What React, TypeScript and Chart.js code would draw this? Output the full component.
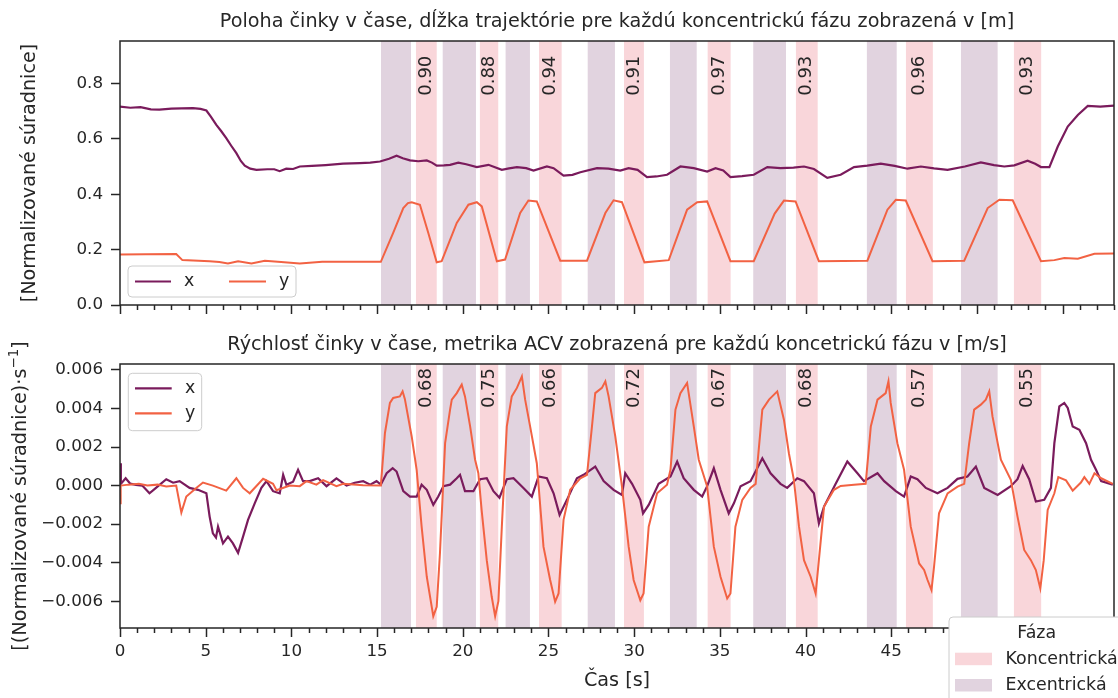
import React, { useEffect, useRef } from 'react';
import { Chart, registerables } from 'chart.js';

Chart.register(...registerables);

const FONT = '"DejaVu Sans", "Liberation Sans", sans-serif';
const INK = '#262626';
const X_COLOR = '#7a1b5c';
const Y_COLOR = '#f26243';
const ECC_COLOR = '#e1d3df';
const CON_COLOR = '#f9d6da';

// ---------- axes ----------
const X_MIN = 0;
const X_MAX = 58;
const xTickValues = [0, 5, 10, 15, 20, 25, 30, 35, 40, 45, 50, 55];
const topYMin = 0;
const topYMax = 0.953;
const topYTicks = [0, 0.2, 0.4, 0.6, 0.8];
const botYMin = -0.00739;
const botYMax = 0.00631;
const botYTicks = [-0.006, -0.004, -0.002, 0, 0.002, 0.004, 0.006];

// ---------- phases (seconds) ----------
const eccStart = [15.23, 18.83, 22.5, 27.29, 32.09, 36.95, 43.58, 49.07];
const eccEnd = [16.98, 20.77, 23.92, 28.88, 33.65, 38.86, 45.32, 51.21];
const conStart = [17.27, 21.0, 24.45, 29.41, 34.29, 39.44, 45.86, 52.16];
const conEnd = [18.48, 22.07, 25.77, 30.57, 35.63, 40.71, 47.43, 53.75];
const lengthLabels = ['0.90', '0.88', '0.94', '0.91', '0.97', '0.93', '0.96', '0.93'];
const acvLabels = ['0.68', '0.75', '0.66', '0.72', '0.67', '0.68', '0.57', '0.55'];

// ---------- position (top) ----------
const posXTime = [0, 0.6, 1.2, 1.8, 2.3, 3.0, 3.6, 4.26, 4.7, 5.04, 5.3, 5.62, 5.9, 6.2, 6.5, 6.79, 7.05, 7.28, 7.6, 7.96, 8.6, 9.0, 9.32, 9.7, 10.1, 10.49, 11.2, 12.0, 13.02, 14.0, 14.6, 15.17, 15.7, 16.14, 16.5, 16.92, 17.4, 17.9, 18.2, 18.48, 18.9, 19.26, 19.74, 20.2, 20.82, 21.5, 22.28, 22.7, 23.16, 23.7, 24.13, 24.91, 25.3, 25.88, 26.4, 26.86, 27.83, 28.5, 29.19, 29.68, 30.2, 30.75, 31.3, 31.92, 32.7, 33.48, 34.26, 34.75, 35.2, 35.62, 36.3, 36.98, 37.77, 38.54, 39.3, 39.91, 40.49, 41.27, 42.05, 42.83, 43.6, 44.39, 45.2, 45.95, 46.73, 47.5, 48.29, 49.3, 50.23, 51.0, 51.6, 52.18, 52.96, 53.4, 53.74, 54.23, 54.72, 55.3, 55.89, 56.47, 57.2, 58.0];
const posX = [0.716, 0.712, 0.714, 0.706, 0.705, 0.709, 0.71, 0.711, 0.708, 0.702, 0.68, 0.65, 0.628, 0.602, 0.574, 0.548, 0.52, 0.503, 0.492, 0.488, 0.49, 0.49, 0.483, 0.492, 0.491, 0.5, 0.502, 0.505, 0.51, 0.512, 0.514, 0.518, 0.528, 0.539, 0.53, 0.522, 0.519, 0.522, 0.514, 0.503, 0.504, 0.506, 0.514, 0.508, 0.498, 0.506, 0.488, 0.493, 0.498, 0.494, 0.485, 0.5, 0.494, 0.467, 0.47, 0.479, 0.494, 0.492, 0.485, 0.494, 0.488, 0.462, 0.464, 0.47, 0.5, 0.494, 0.482, 0.494, 0.486, 0.462, 0.465, 0.47, 0.498, 0.494, 0.496, 0.5, 0.491, 0.459, 0.47, 0.498, 0.503, 0.51, 0.502, 0.492, 0.5, 0.493, 0.488, 0.5, 0.515, 0.505, 0.5, 0.504, 0.521, 0.51, 0.498, 0.498, 0.572, 0.644, 0.686, 0.719, 0.716, 0.72];

const posYTime = [0, 1.5, 3.28, 3.64, 5.23, 5.8, 6.3, 6.89, 7.67, 8.45, 9.4, 10.49, 11.8, 13.02, 15.22, 15.94, 16.53, 16.8, 17.02, 17.5, 17.99, 18.48, 18.77, 19.65, 20.33, 20.82, 21.11, 21.99, 22.47, 23.35, 23.83, 24.32, 25.69, 27.25, 28.32, 28.8, 29.29, 30.6, 32.02, 33.09, 33.68, 34.26, 35.62, 36.98, 38.2, 38.74, 39.42, 40.78, 43.61, 44.78, 45.27, 45.85, 47.41, 49.26, 50.63, 51.31, 52.09, 53.74, 54.52, 55.1, 55.89, 56.86, 58.0];
const posY = [0.182, 0.183, 0.184, 0.162, 0.158, 0.155, 0.15, 0.158, 0.15, 0.16, 0.155, 0.15, 0.156, 0.156, 0.156, 0.26, 0.35, 0.368, 0.371, 0.362, 0.26, 0.154, 0.158, 0.296, 0.362, 0.371, 0.356, 0.158, 0.164, 0.332, 0.377, 0.374, 0.16, 0.16, 0.332, 0.378, 0.371, 0.154, 0.162, 0.344, 0.371, 0.374, 0.158, 0.158, 0.33, 0.377, 0.374, 0.158, 0.16, 0.344, 0.38, 0.377, 0.158, 0.16, 0.35, 0.38, 0.378, 0.158, 0.162, 0.17, 0.167, 0.185, 0.186];

// ---------- velocity (bottom), values in 10^-3 units ----------
const velXTime = [0, 0.05, 0.33, 0.6, 0.93, 1.3, 1.72, 2.1, 2.7, 3.1, 3.48, 4.06, 4.55, 5.04, 5.23, 5.42, 5.6, 5.72, 6.01, 6.3, 6.59, 6.89, 7.18, 7.47, 7.86, 8.25, 8.55, 8.93, 9.32, 9.52, 9.71, 10.1, 10.39, 10.68, 11.07, 11.56, 12.05, 12.63, 13.22, 13.7, 14.19, 14.6, 14.97, 15.22, 15.56, 15.91, 16.14, 16.53, 16.92, 17.31, 17.6, 17.9, 18.28, 18.57, 18.87, 19.26, 19.65, 19.84, 20.13, 20.62, 21.01, 21.4, 21.79, 22.14, 22.57, 22.96, 23.54, 24.03, 24.42, 24.91, 25.3, 25.65, 26.08, 26.66, 27.05, 27.73, 28.22, 28.8, 29.29, 29.48, 29.88, 30.36, 30.52, 30.85, 31.43, 32.12, 32.51, 32.89, 33.48, 33.97, 34.26, 34.65, 35.04, 35.52, 35.82, 36.21, 36.79, 37.48, 37.96, 38.54, 38.93, 39.52, 39.91, 40.49, 40.78, 41.08, 41.76, 42.44, 43.03, 43.41, 44.2, 44.59, 45.27, 45.75, 46.14, 46.53, 47.02, 47.7, 48.29, 48.87, 49.45, 49.94, 50.43, 51.21, 51.98, 52.37, 52.67, 53.05, 53.44, 53.93, 54.32, 54.52, 54.81, 55.1, 55.3, 55.59, 55.98, 56.37, 56.66, 56.95, 57.25, 57.93];
const velXMilli = [1.16, 0.09, 0.38, 0.1, 0.04, 0.0, -0.4, -0.12, 0.33, 0.15, 0.23, -0.12, -0.22, -0.4, -1.61, -2.48, -2.7, -2.13, -3.0, -2.65, -3.0, -3.49, -2.65, -1.78, -0.92, -0.12, 0.23, -0.29, -0.4, 0.56, 0.04, 0.2, 0.82, 0.23, 0.23, 0.38, -0.03, 0.38, 0.0, 0.15, 0.23, 0.05, 0.23, 0.05, 0.64, 0.9, 0.73, -0.29, -0.57, -0.57, 0.05, -0.22, -1.0, -0.57, -0.03, 0.05, 0.38, 0.56, -0.29, -0.29, 0.33, 0.38, -0.29, -0.63, 0.33, 0.38, -0.12, -0.57, 0.47, 0.38, -0.4, -1.52, -0.74, 0.38, 0.56, 0.99, 0.23, -0.22, -0.49, 0.64, 0.09, -0.74, -1.44, -1.0, 0.09, 0.47, 1.25, 0.38, -0.22, -0.57, -0.03, 0.9, -0.22, -1.44, -0.92, -0.03, 0.23, 1.42, 0.64, 0.09, -0.12, 0.38, 0.23, -0.4, -1.96, -1.09, 0.09, 1.25, 0.64, 0.23, 0.64, 0.23, -0.29, -0.57, 0.47, 0.33, -0.12, -0.4, -0.12, 0.35, 0.47, 0.99, -0.12, -0.49, -0.03, 0.33, 1.02, 0.33, -0.83, -0.74, -0.12, 2.2, 4.11, 4.29, 4.03, 3.07, 2.9, 2.2, 1.34, 0.82, 0.23, 0.05];

const velYTime = [0, 0.04, 0.5, 1.1, 1.6, 2.2, 2.7, 3.28, 3.58, 3.87, 4.45, 4.84, 5.42, 6.2, 6.79, 7.18, 7.57, 8.35, 8.93, 9.13, 9.91, 10.49, 10.88, 11.46, 11.85, 12.63, 13.02, 14.19, 15.22, 15.46, 15.75, 15.94, 16.33, 16.49, 16.62, 17.02, 17.31, 17.6, 17.9, 18.19, 18.28, 18.48, 18.67, 18.97, 19.26, 19.36, 19.65, 19.94, 20.13, 20.43, 20.72, 20.91, 21.1, 21.4, 21.69, 21.89, 22.08, 22.28, 22.57, 22.86, 23.16, 23.45, 23.64, 23.93, 24.32, 24.71, 25.1, 25.39, 25.59, 25.88, 26.27, 26.86, 27.25, 27.54, 27.73, 28.12, 28.32, 28.51, 28.9, 29.29, 29.68, 29.97, 30.36, 30.55, 30.85, 31.34, 31.92, 32.12, 32.41, 32.7, 33.09, 33.48, 33.77, 34.26, 34.65, 35.04, 35.43, 35.62, 35.91, 36.31, 36.79, 37.09, 37.48, 37.87, 38.35, 38.74, 39.03, 39.32, 39.62, 39.91, 40.3, 40.59, 40.78, 41.08, 41.66, 42.05, 42.83, 43.51, 43.81, 44.2, 44.68, 44.84, 44.97, 45.36, 45.75, 46.14, 46.63, 46.92, 47.12, 47.35, 47.5, 47.79, 48.29, 48.87, 49.26, 49.55, 49.84, 50.23, 50.52, 50.72, 50.91, 51.4, 51.98, 52.37, 52.76, 53.15, 53.44, 53.7, 53.9, 54.13, 54.52, 54.75, 55.2, 55.59, 56.07, 56.27, 56.56, 56.86, 57.25, 57.93];
const velYMilli = [-0.92, 0.0, 0.05, 0.09, 0.0, 0.05, -0.05, 0.0, -1.4, -0.57, -0.12, 0.16, 0.0, -0.26, 0.38, -0.12, -0.4, 0.35, 0.09, -0.24, 0.0, -0.03, 0.23, 0.05, 0.28, -0.03, 0.09, 0.02, 0.0, 2.73, 4.29, 4.55, 4.63, 4.89, 4.5, 2.55, 0.82, -2.13, -4.73, -6.29, -6.78, -6.29, -3.5, 2.2, 3.94, 4.46, 4.8, 5.24, 4.63, 3.07, 1.34, 0.64, -1.26, -3.87, -5.77, -6.78, -6.0, -2.13, 3.07, 4.63, 5.07, 5.67, 4.46, 3.07, 1.16, -3.17, -4.9, -6.03, -5.6, -1.78, -0.22, 0.38, 0.56, 3.07, 4.8, 5.07, 5.41, 4.63, 2.55, -0.05, -3.17, -4.9, -5.95, -5.6, -2.13, -0.4, 0.04, 0.82, 3.94, 4.8, 5.33, 3.07, 1.34, -0.05, -3.17, -4.73, -5.86, -5.6, -2.13, -0.74, -0.12, 0.09, 3.94, 4.46, 4.89, 3.42, 1.68, 0.3, -2.13, -3.87, -4.73, -5.6, -3.87, -1.09, -0.22, -0.02, 0.04, 0.09, 3.07, 4.46, 4.8, 5.41, 4.29, 2.2, 0.82, -2.13, -4.04, -4.38, -4.9, -5.42, -4.21, -1.44, -0.4, -0.05, 0.09, 2.2, 3.94, 4.2, 4.46, 4.89, 3.59, 1.34, 0.3, -1.61, -3.34, -3.87, -4.38, -5.34, -3.87, -1.26, -0.4, 0.44, 0.27, -0.26, 0.16, 0.44, 0.09, 0.64, 0.38, 0.09];

const topTitle = 'Poloha činky v čase, dĺžka trajektórie pre každú koncentrickú fázu zobrazená v [m]';
const botTitle = 'Rýchlosť činky v čase, metrika ACV zobrazená pre každú koncetrickú fázu v [m/s]';
const topYLabel = '[Normalizované súradnice]';
const botYLabelMain = '[(Normalizované súradnice)·s';
const botYLabelSup = '−1';
const botYLabelEnd = ']';
const xLabel = 'Čas [s]';
const seriesNames = ['x', 'y'];
const phaseTitle = 'Fáza';
const phaseNames = ['Koncentrická', 'Excentrická'];

const FS = 16.7; // tick labels
const FT = 19.2; // titles and axis labels
const FL = 17.4; // legend text

function toPoints(t: number[], v: number[], scale = 1) {
  return t.map((tt, i) => ({ x: tt, y: v[i] * scale }));
}

function drawLegendBox(ctx: CanvasRenderingContext2D, x: number, y: number, w: number, h: number, fill: string) {
  ctx.save();
  ctx.beginPath();
  (ctx as any).roundRect(x, y, w, h, 4);
  ctx.fillStyle = fill;
  ctx.fill();
  ctx.strokeStyle = '#cccccc';
  ctx.lineWidth = 1;
  ctx.stroke();
  ctx.restore();
}

function legendLine(ctx: CanvasRenderingContext2D, x0: number, x1: number, y: number, color: string, label: string, tx: number) {
  ctx.save();
  ctx.strokeStyle = color;
  ctx.lineWidth = 2.2;
  ctx.beginPath();
  ctx.moveTo(x0, y);
  ctx.lineTo(x1, y);
  ctx.stroke();
  ctx.fillStyle = INK;
  ctx.font = `${FL}px ${FONT}`;
  ctx.textAlign = 'left';
  ctx.textBaseline = 'middle';
  ctx.fillText(label, tx, y);
  ctx.restore();
}

const decorPlugin = {
  id: 'decor',
  beforeDatasetsDraw(chart: any) {
    const { ctx, chartArea } = chart;
    const xs = chart.scales.x;
    const { left, right, top, bottom } = chartArea;
    ctx.save();
    ctx.beginPath();
    ctx.rect(left, top, right - left, bottom - top);
    ctx.clip();
    for (let i = 0; i < eccStart.length; i++) {
      const a = xs.getPixelForValue(eccStart[i]);
      const b = xs.getPixelForValue(eccEnd[i]);
      ctx.fillStyle = ECC_COLOR;
      ctx.fillRect(a, top, b - a, bottom - top);
    }
    for (let i = 0; i < conStart.length; i++) {
      const a = xs.getPixelForValue(conStart[i]);
      const b = xs.getPixelForValue(conEnd[i]);
      ctx.fillStyle = CON_COLOR;
      ctx.fillRect(a, top, b - a, bottom - top);
    }
    ctx.restore();
  },
  afterDatasetsDraw(chart: any, _a: any, opts: any) {
    const { ctx } = chart;
    const xs = chart.scales.x;
    const ys = chart.scales.y;
    const isTop = opts.kind === 'top';
    const labels = isTop ? lengthLabels : acvLabels;
    const ty = ys.getPixelForValue(isTop ? 0.9 : 0.0061);
    ctx.save();
    ctx.fillStyle = INK;
    ctx.font = `18px ${FONT}`;
    for (let i = 0; i < labels.length; i++) {
      const cx = xs.getPixelForValue((conStart[i] + conEnd[i]) / 2);
      ctx.save();
      ctx.translate(cx, ty);
      ctx.rotate(-Math.PI / 2);
      ctx.textAlign = 'right';
      ctx.textBaseline = 'middle';
      ctx.fillText(labels[i], 0, 0);
      ctx.restore();
    }
    ctx.restore();
  },
  afterDraw(chart: any, _a: any, opts: any) {
    const { ctx, chartArea } = chart;
    const { left, right, top, bottom } = chartArea;
    const xs = chart.scales.x;
    const isTop = opts.kind === 'top';
    ctx.save();
    // frame
    ctx.strokeStyle = INK;
    ctx.lineWidth = 1.5;
    ctx.strokeRect(left, top, right - left, bottom - top);
    // x ticks (major every 5 s, minor every 1 s)
    for (let t = X_MIN; t <= X_MAX; t++) {
      const px = Math.round(xs.getPixelForValue(t)) + 0.5;
      const len = t % 5 === 0 ? 9 : 5;
      ctx.beginPath();
      ctx.moveTo(px, bottom);
      ctx.lineTo(px, bottom + len);
      ctx.stroke();
    }
    // title
    ctx.fillStyle = INK;
    ctx.font = `${FT}px ${FONT}`;
    ctx.textAlign = 'center';
    ctx.textBaseline = 'middle';
    ctx.fillText(isTop ? topTitle : botTitle, (left + right) / 2, isTop ? 22 : 15);
    const cy = (top + bottom) / 2;
    if (isTop) {
      ctx.save();
      ctx.translate(30, cy);
      ctx.rotate(-Math.PI / 2);
      ctx.fillText(topYLabel, 0, 0);
      ctx.restore();
      drawLegendBox(ctx, 128, 266, 168, 31, 'rgba(255,255,255,0.85)');
      legendLine(ctx, 135, 171, 281.5, X_COLOR, seriesNames[0], 184);
      legendLine(ctx, 229, 266, 281.5, Y_COLOR, seriesNames[1], 279);
    } else {
      ctx.save();
      ctx.translate(19, cy);
      ctx.rotate(-Math.PI / 2);
      const f1 = `${FT}px ${FONT}`;
      const f2 = `13.4px ${FONT}`;
      ctx.font = f1;
      const wa = ctx.measureText(botYLabelMain).width;
      const wc = ctx.measureText(botYLabelEnd).width;
      ctx.font = f2;
      const wb = ctx.measureText(botYLabelSup).width;
      let x = -(wa + wb + wc) / 2;
      ctx.textAlign = 'left';
      ctx.textBaseline = 'alphabetic';
      const base = 7;
      ctx.font = f1;
      ctx.fillText(botYLabelMain, x, base);
      x += wa;
      ctx.font = f2;
      ctx.fillText(botYLabelSup, x, base - 8);
      x += wb;
      ctx.font = f1;
      ctx.fillText(botYLabelEnd, x, base);
      ctx.restore();

      // x label
      ctx.font = `${FT}px ${FONT}`;
      ctx.textAlign = 'center';
      ctx.textBaseline = 'middle';
      ctx.fillText(xLabel, (left + right) / 2, 351);

      drawLegendBox(ctx, 128.3, 43.3, 73.4, 57.4, 'rgba(255,255,255,0.85)');
      legendLine(ctx, 135, 171.7, 58.3, X_COLOR, seriesNames[0], 185);
      legendLine(ctx, 135, 171.7, 83.3, Y_COLOR, seriesNames[1], 185);

      // phase legend (partially outside the figure)
      drawLegendBox(ctx, 949, 287, 190, 100, '#ffffff');
      ctx.fillStyle = INK;
      ctx.font = `${FL}px ${FONT}`;
      ctx.textAlign = 'center';
      ctx.textBaseline = 'middle';
      ctx.fillText(phaseTitle, 1036.7, 303);
      ctx.fillStyle = CON_COLOR;
      ctx.fillRect(955, 322.7, 37, 12.5);
      ctx.fillStyle = ECC_COLOR;
      ctx.fillRect(955, 349, 37, 12.5);
      ctx.fillStyle = INK;
      ctx.textAlign = 'left';
      ctx.fillText(phaseNames[0], 1005.5, 329);
      ctx.fillText(phaseNames[1], 1005.5, 355.5);
    }
    ctx.restore();
  },
};

function buildChart(canvas: HTMLCanvasElement, kind: 'top' | 'bottom') {
  const isTop = kind === 'top';
  const xData = isTop ? toPoints(posXTime, posX) : toPoints(velXTime, velXMilli, 0.001);
  const yData = isTop ? toPoints(posYTime, posY) : toPoints(velYTime, velYMilli, 0.001);
  const yTicks = isTop ? topYTicks : botYTicks;
  return new Chart(canvas, {
    type: 'line',
    data: {
      datasets: [
        { label: seriesNames[0], data: xData, borderColor: X_COLOR, borderWidth: 2.2, pointRadius: 0, tension: 0, order: 1 },
        { label: seriesNames[1], data: yData, borderColor: Y_COLOR, borderWidth: 2, pointRadius: 0, tension: 0, order: 0 },
      ],
    },
    options: {
      responsive: false,
      animation: false,
      devicePixelRatio: 1,
      events: [],
      layout: { padding: { left: 0, right: 4, top: isTop ? 41 : 34, bottom: 0 } },
      plugins: {
        legend: { display: false },
        tooltip: { enabled: false },
        title: { display: false },
        decor: { kind },
      } as any,
      scales: {
        x: {
          type: 'linear',
          min: X_MIN,
          max: X_MAX,
          grid: { display: false },
          border: { display: false },
          afterBuildTicks: (s: any) => {
            s.ticks = xTickValues.map((v) => ({ value: v }));
          },
          afterFit: (s: any) => {
            s.height = isTop ? 25 : 70;
          },
          ticks: {
            display: !isTop,
            autoSkip: false,
            maxRotation: 0,
            padding: 6,
            color: INK,
            font: { family: FONT, size: FS },
            callback: (v: any) => String(v),
          },
        },
        y: {
          type: 'linear',
          min: isTop ? topYMin : botYMin,
          max: isTop ? topYMax : botYMax,
          grid: { display: true, drawOnChartArea: false, drawTicks: true, tickLength: 9, tickWidth: 1.5, tickColor: INK },
          border: { display: false },
          afterBuildTicks: (s: any) => {
            s.ticks = yTicks.map((v) => ({ value: v }));
          },
          afterFit: (s: any) => {
            s.width = 120;
          },
          ticks: {
            autoSkip: false,
            padding: 8,
            color: INK,
            font: { family: FONT, size: FS },
            callback: (v: any) => {
              const n = Number(v);
              const s = isTop ? n.toFixed(1) : n.toFixed(3);
              return s.replace('-', '−');
            },
          },
        },
      },
    } as any,
    plugins: [decorPlugin as any],
  });
}

export default function App() {
  const topRef = useRef<HTMLCanvasElement>(null);
  const botRef = useRef<HTMLCanvasElement>(null);
  useEffect(() => {
    const c1 = buildChart(topRef.current!, 'top');
    const c2 = buildChart(botRef.current!, 'bottom');
    return () => {
      c1.destroy();
      c2.destroy();
    };
  }, []);
  return (
    <div style={{ position: 'absolute', left: 0, top: 0, width: 1118, height: 698, background: '#fff', overflow: 'hidden' }}>
      <canvas ref={topRef} width={1118} height={330} style={{ position: 'absolute', left: 0, top: 0, width: 1118, height: 330 }} />
      <canvas ref={botRef} width={1118} height={368} style={{ position: 'absolute', left: 0, top: 330, width: 1118, height: 368 }} />
    </div>
  );
}
